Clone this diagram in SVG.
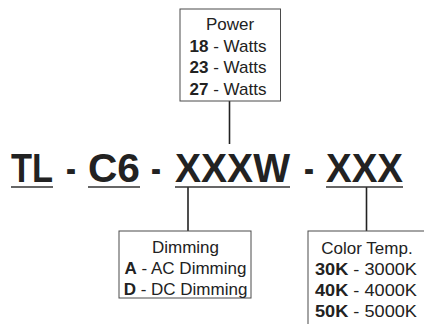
<svg xmlns="http://www.w3.org/2000/svg" width="424" height="324" viewBox="0 0 424 324">
<style>
text{font-family:"Liberation Sans",Arial,sans-serif;fill:#222}
.t{font-size:17px}
.b{font-weight:bold}
.main{font-size:41px;font-weight:bold}
.box{fill:#fff;stroke:#4a4a4a;stroke-width:1}
.con{stroke:#222;stroke-width:1.6;fill:none}
.ul{stroke:#333;stroke-width:1.6}
</style>
<rect width="424" height="324" fill="#fff"/>
<g id="connectors">
<line class="con" x1="229.5" y1="101" x2="229.5" y2="144"/>
<line class="con" x1="188" y1="187" x2="188" y2="231"/>
<line class="con" x1="366.5" y1="187" x2="366.5" y2="231"/>
</g>
<g id="code">
<text class="main" x="11" y="182" textLength="42" lengthAdjust="spacingAndGlyphs">TL</text>
<text class="main" x="66" y="182" textLength="10" lengthAdjust="spacingAndGlyphs">-</text>
<text class="main" x="88" y="182" textLength="52" lengthAdjust="spacingAndGlyphs">C6</text>
<text class="main" x="151" y="182" textLength="10" lengthAdjust="spacingAndGlyphs">-</text>
<text class="main" x="175" y="182" textLength="115" lengthAdjust="spacingAndGlyphs">XXXW</text>
<text class="main" x="304" y="182" textLength="10" lengthAdjust="spacingAndGlyphs">-</text>
<text class="main" x="326" y="182" textLength="77" lengthAdjust="spacingAndGlyphs">XXX</text>
<line class="ul" x1="11" y1="187" x2="53" y2="187"/>
<line class="ul" x1="88" y1="187" x2="140" y2="187"/>
<line class="ul" x1="175" y1="187" x2="290" y2="187"/>
<line class="ul" x1="326" y1="187" x2="403" y2="187"/>
</g>
<g id="power">
<rect class="box" x="180" y="9" width="100.5" height="92"/>
<text class="t" x="230" y="30" text-anchor="middle">Power</text>
<text class="t" x="228" y="52" text-anchor="middle"><tspan class="b">18</tspan> - Watts</text>
<text class="t" x="228" y="73" text-anchor="middle"><tspan class="b">23</tspan> - Watts</text>
<text class="t" x="228" y="95" text-anchor="middle"><tspan class="b">27</tspan> - Watts</text>
</g>
<g id="dimming">
<rect class="box" x="119" y="231" width="132" height="67"/>
<text class="t" x="185.5" y="253" text-anchor="middle">Dimming</text>
<text class="t" x="185.5" y="274" text-anchor="middle"><tspan class="b">A</tspan> - AC Dimming</text>
<text class="t" x="185.5" y="295" text-anchor="middle"><tspan class="b">D</tspan> - DC Dimming</text>
</g>
<g id="colortemp">
<rect class="box" x="308" y="231" width="118" height="100"/>
<text class="t" x="367" y="254" text-anchor="middle">Color Temp.</text>
<text class="t" x="315" y="275" textLength="102" lengthAdjust="spacingAndGlyphs"><tspan class="b">30K</tspan> - 3000K</text>
<text class="t" x="315" y="296" textLength="102" lengthAdjust="spacingAndGlyphs"><tspan class="b">40K</tspan> - 4000K</text>
<text class="t" x="315" y="317" textLength="102" lengthAdjust="spacingAndGlyphs"><tspan class="b">50K</tspan> - 5000K</text>
</g>
</svg>
